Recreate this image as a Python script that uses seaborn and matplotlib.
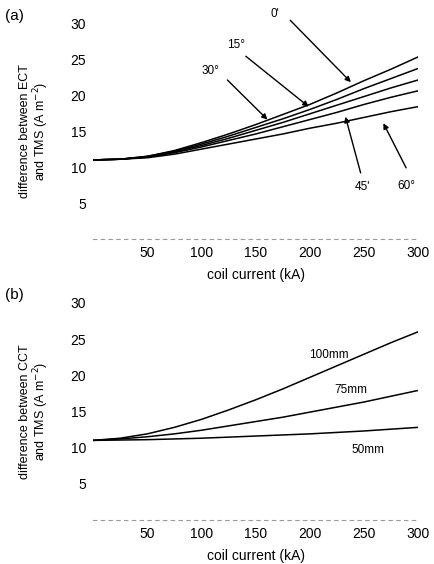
import numpy as np
import pandas as pd
import matplotlib
matplotlib.use("Agg")
import matplotlib.pyplot as plt
import seaborn as sns

# ---- data ----
current_kA = [0, 25, 50, 75, 100, 125, 150, 175, 200, 225, 250, 275, 300]
angle_labels = ["0°", "15°", "30°", "45°", "60°"]
diff_0 = [11.0, 11.1, 11.5, 12.3, 13.4, 14.6, 15.9, 17.3, 18.7, 20.3, 22.0, 23.6, 25.3]
diff_15 = [11.0, 11.1, 11.5, 12.2, 13.2, 14.3, 15.5, 16.7, 18.0, 19.4, 20.9, 22.3, 23.7]
diff_30 = [11.0, 11.1, 11.4, 12.1, 13.0, 14.0, 15.1, 16.2, 17.4, 18.6, 19.8, 21.0, 22.1]
diff_45 = [11.0, 11.1, 11.4, 12.0, 12.8, 13.7, 14.6, 15.6, 16.6, 17.6, 18.7, 19.7, 20.6]
diff_60 = [11.0, 11.1, 11.3, 11.8, 12.5, 13.2, 13.9, 14.6, 15.4, 16.1, 16.9, 17.7, 18.4]

current_b = [0, 25, 50, 75, 100, 125, 150, 175, 200, 225, 250, 275, 300]
radius_labels = ["100mm", "75mm", "50mm"]
diff_100mm = [11.0, 11.3, 11.9, 12.8, 13.9, 15.2, 16.6, 18.1, 19.7, 21.3, 22.9, 24.5, 26.0]
diff_75mm = [11.0, 11.2, 11.5, 11.9, 12.4, 13.0, 13.6, 14.2, 14.9, 15.6, 16.3, 17.1, 17.9]
diff_50mm = [11.0, 11.05, 11.1, 11.2, 11.3, 11.45, 11.6, 11.75, 11.9, 12.1, 12.3, 12.55, 12.8]

x_ticks = [50, 100, 150, 200, 250, 300]
y_ticks = [5, 10, 15, 20, 25, 30]

df_a = pd.DataFrame({
    "current": current_kA * 5,
    "diff": diff_0 + diff_15 + diff_30 + diff_45 + diff_60,
    "angle": sum([[a] * len(current_kA) for a in angle_labels], []),
})
df_b = pd.DataFrame({
    "current": current_b * 3,
    "diff": diff_100mm + diff_75mm + diff_50mm,
    "radius": sum([[r] * len(current_b) for r in radius_labels], []),
})

sns.set_theme(style="white")
plt.rcParams["font.family"] = ["Liberation Sans", "DejaVu Sans"]
plt.rcParams["text.color"] = "black"
plt.rcParams["axes.labelcolor"] = "black"
plt.rcParams["xtick.color"] = "black"
plt.rcParams["ytick.color"] = "black"

fig = plt.figure(figsize=(4.35, 5.64), dpi=100)
ax_a = fig.add_axes([0.214, 0.576, 0.747, 0.383])
ax_b = fig.add_axes([0.214, 0.078, 0.747, 0.385])

sns.lineplot(data=df_a, x="current", y="diff", hue="angle",
             palette=["black"] * 5, legend=False, ax=ax_a, linewidth=1.1)
sns.lineplot(data=df_b, x="current", y="diff", hue="radius",
             palette=["black"] * 3, legend=False, ax=ax_b, linewidth=1.1)

for ax, lab in [(ax_a, "ECT"), (ax_b, "CCT")]:
    ax.set_xlim(0, 300)
    ax.set_ylim(0, 30)
    ax.set_xticks(x_ticks)
    ax.set_yticks(y_ticks)
    ax.tick_params(axis="both", length=0, labelsize=10, pad=5)
    ax.set_xlabel("coil current (kA)", fontsize=10, labelpad=6)
    ax.set_ylabel(f"difference between {lab}\nand TMS (A m$^{{-2}}$)",
                  fontsize=9, labelpad=14, linespacing=1.0)
    for s in ["top", "right", "left"]:
        ax.spines[s].set_visible(False)
    ax.spines["bottom"].set_color("#999999")
    ax.spines["bottom"].set_linestyle((0, (3, 4)))
    ax.spines["bottom"].set_linewidth(0.8)

fig.text(0.012, 0.965, "(a)", fontsize=11)
fig.text(0.012, 0.47, "(b)", fontsize=11)

# annotations panel (a)
arrowprops = dict(arrowstyle="-|>", color="black", lw=1.0, mutation_scale=8,
                  shrinkA=0, shrinkB=0)
ann_a = [
    ("0'", (168, 31.2), (182, 30.4), (238, 21.8)),
    ("15°", (132, 26.9), (141, 25.4), (199, 18.4)),
    ("30°", (108, 23.4), (124, 22.1), (161, 16.6)),
    ("45'", (249, 7.2), (247, 9.2), (233, 17.0)),
    ("60°", (289, 7.4), (289, 9.9), (268, 16.1)),
]
for txt, tpos, tail, head in ann_a:
    ax_a.text(tpos[0], tpos[1], txt, fontsize=8.5, ha="center", va="center",
              clip_on=False)
    ax_a.annotate("", xy=head, xytext=tail, arrowprops=arrowprops,
                  annotation_clip=False)

# labels panel (b)
ax_b.text(218, 22.8, "100mm", fontsize=8.5, ha="center", va="center")
ax_b.text(238, 17.9, "75mm", fontsize=8.5, ha="center", va="center")
ax_b.text(254, 9.7, "50mm", fontsize=8.5, ha="center", va="center")

fig.savefig("out.png", dpi=100)
